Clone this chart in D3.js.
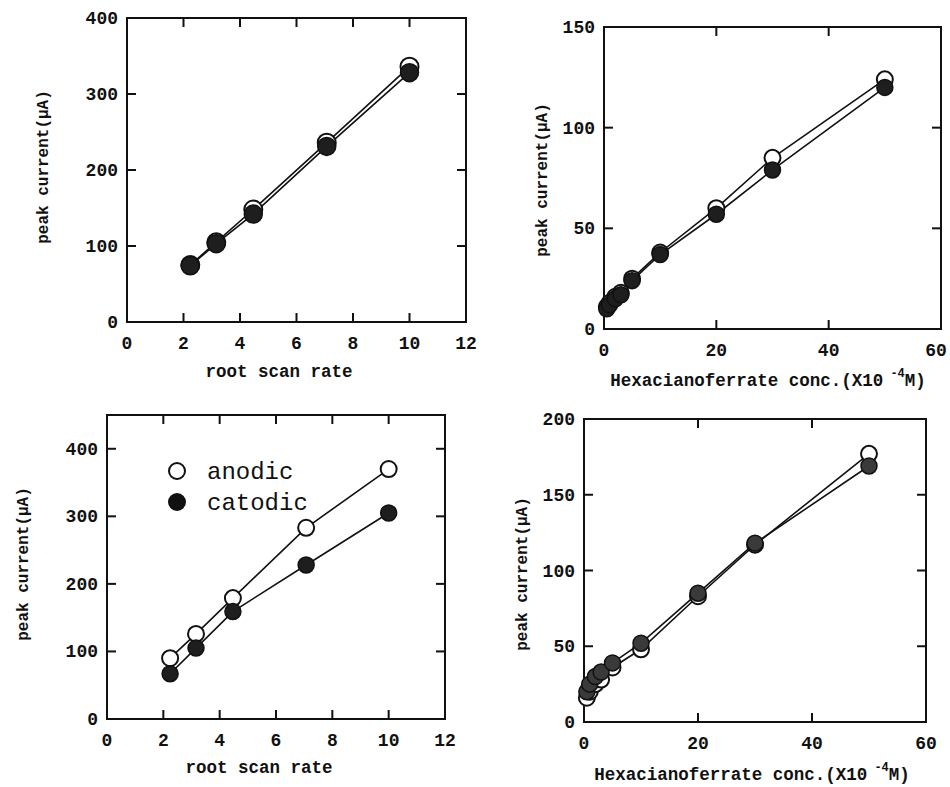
<!DOCTYPE html>
<html>
<head>
<meta charset="utf-8">
<script src="https://cdn.jsdelivr.net/npm/d3@7"></script>
<style>
  body { margin: 0; background: #fff; }
  svg { display: block; }
  .tick-label { font-family: "Liberation Mono", "DejaVu Sans Mono", monospace; font-weight: bold; font-size: 18px; fill: #111; }
  .axis-title { font-family: "Liberation Mono", "DejaVu Sans Mono", monospace; font-weight: bold; font-size: 17.5px; fill: #111; }
  .y-title { font-family: "Liberation Mono", "DejaVu Sans Mono", monospace; font-weight: bold; font-size: 16px; fill: #111; }
  .legend-text { font-family: "Liberation Mono", "Liberation Serif", serif; font-size: 24px; fill: #111; }
</style>
</head>
<body>
<svg width="950" height="787"></svg>
<script>
// x values
var rootScanRate = [2.24, 3.16, 4.47, 7.07, 10.0];
var hexConc = [0.5, 1, 2, 3, 5, 10, 20, 30, 50];

// top left: root scan rate
var p1Anodic  = [75, 105, 148, 236, 336];
var p1Catodic = [74, 103, 142, 231, 328];

// top right: concentration
var p2Anodic  = [11, 13, 16, 18, 25, 38, 60, 85, 124];
var p2Catodic = [10, 12, 15, 17, 24, 37, 57, 79, 120];

// bottom left: root scan rate
var p3Anodic  = [90, 126, 179, 283, 370];
var p3Catodic = [67, 105, 159, 228, 305];

// bottom right: concentration
var p4Anodic  = [16, 20, 25, 28, 36, 48, 83, 117, 177];
var p4Catodic = [20, 25, 30, 33, 39, 52, 85, 118, 169];

// ticks
var rateTicks = [0, 2, 4, 6, 8, 10, 12];
var concTicks = [0, 20, 40, 60];
var ticks400 = [0, 100, 200, 300, 400];
var ticks150 = [0, 50, 100, 150];
var ticks200 = [0, 50, 100, 150, 200];

var legendNames = ["anodic", "catodic"];

var svg = d3.select("svg");

var panels = [
  {x: rootScanRate, a: p1Anodic, c: p1Catodic, xd: [0, 12], yd: [0, 400],
   xr: [127, 466], yr: [322, 18], xt: rateTicks, yt: ticks400, r: 9,
   xlab: "root scan rate", xlx: 279, xly: 377, ylx: 42, yly: 167, legend: false, fillC: "#1e1e1e"},
  {x: hexConc, a: p2Anodic, c: p2Catodic, xd: [0, 60], yd: [0, 150],
   xr: [604, 941], yr: [329, 27], xt: concTicks, yt: ticks150, r: 8,
   xlab: "conc", xlx: 768, xly: 386, ylx: 541, yly: 180, legend: false, fillC: "#1e1e1e"},
  {x: rootScanRate, a: p3Anodic, c: p3Catodic, xd: [0, 12], yd: [0, 450],
   xr: [107, 445], yr: [719, 415], xt: rateTicks, yt: ticks400, r: 8,
   xlab: "root scan rate", xlx: 259, xly: 773, ylx: 22, yly: 564, legend: true, fillC: "#1e1e1e"},
  {x: hexConc, a: p4Anodic, c: p4Catodic, xd: [0, 60], yd: [0, 200],
   xr: [584, 926], yr: [722, 419], xt: concTicks, yt: ticks200, r: 8,
   xlab: "conc", xlx: 752, xly: 780, ylx: 521, yly: 574, legend: false, fillC: "#3a3a3a"}
];

panels.forEach(drawPanel);

function drawPanel(p) {
  var x = d3.scaleLinear().domain(p.xd).range(p.xr);
  var y = d3.scaleLinear().domain(p.yd).range(p.yr);
  var g = svg.append("g");

  // frame
  g.append("rect")
    .attr("x", p.xr[0]).attr("y", p.yr[1])
    .attr("width", p.xr[1] - p.xr[0]).attr("height", p.yr[0] - p.yr[1])
    .attr("fill", "none").attr("stroke", "#111").attr("stroke-width", 2);

  // inward ticks on all four sides, labels outside bottom and left
  var inner = p.xt.filter(function(t) { return t > p.xd[0] && t < p.xd[1]; });
  g.selectAll(".xtb").data(inner).enter().append("line")
    .attr("x1", d => x(d)).attr("x2", d => x(d))
    .attr("y1", p.yr[0]).attr("y2", p.yr[0] - 9)
    .attr("stroke", "#111").attr("stroke-width", 2);
  g.selectAll(".xtt").data(inner).enter().append("line")
    .attr("x1", d => x(d)).attr("x2", d => x(d))
    .attr("y1", p.yr[1]).attr("y2", p.yr[1] + 9)
    .attr("stroke", "#111").attr("stroke-width", 2);
  // keep the last label inside the page edge
  g.selectAll(".xl").data(p.xt).enter().append("text")
    .attr("class", "tick-label")
    .attr("x", d => Math.min(x(d), 936)).attr("y", p.yr[0] + 27)
    .attr("text-anchor", "middle")
    .text(d => d);

  var innerY = p.yt.filter(function(t) { return t > p.yd[0] && t < p.yd[1]; });
  g.selectAll(".ytl").data(innerY).enter().append("line")
    .attr("x1", p.xr[0]).attr("x2", p.xr[0] + 9)
    .attr("y1", d => y(d)).attr("y2", d => y(d))
    .attr("stroke", "#111").attr("stroke-width", 2);
  g.selectAll(".ytr").data(innerY).enter().append("line")
    .attr("x1", p.xr[1]).attr("x2", p.xr[1] - 9)
    .attr("y1", d => y(d)).attr("y2", d => y(d))
    .attr("stroke", "#111").attr("stroke-width", 2);
  g.selectAll(".yl").data(p.yt).enter().append("text")
    .attr("class", "tick-label")
    .attr("x", p.xr[0] - 9).attr("y", d => y(d) + 6)
    .attr("text-anchor", "end")
    .text(d => d);

  // axis titles
  var xt = g.append("text").attr("class", "axis-title")
    .attr("x", p.xlx).attr("y", p.xly).attr("text-anchor", "middle");
  if (p.xlab == "conc") {
    xt.append("tspan").text("Hexacianoferrate conc.(X10");
    xt.append("tspan").attr("dy", -9).attr("font-size", "12px").text(" -4");
    xt.append("tspan").attr("dy", 9).text("M)");
  } else {
    xt.text(p.xlab);
  }
  g.append("text").attr("class", "y-title")
    .attr("transform", "translate(" + p.ylx + "," + p.yly + ") rotate(-90)")
    .attr("text-anchor", "middle").attr("dy", "0.35em")
    .text("peak current(\u03bcA)");

  // lines
  var line = d3.line().x(d => x(d[0])).y(d => y(d[1]));
  var aPts = p.x.map((v, i) => [v, p.a[i]]);
  var cPts = p.x.map((v, i) => [v, p.c[i]]);
  [aPts, cPts].forEach(function(pts) {
    g.append("path").datum(pts).attr("d", line)
      .attr("fill", "none").attr("stroke", "#111").attr("stroke-width", 1.6);
  });

  // markers: anodic open, catodic filled
  g.selectAll(".an").data(aPts).enter().append("circle")
    .attr("cx", d => x(d[0])).attr("cy", d => y(d[1])).attr("r", p.r)
    .attr("fill", "#fff").attr("stroke", "#111").attr("stroke-width", 2);
  g.selectAll(".ca").data(cPts).enter().append("circle")
    .attr("cx", d => x(d[0])).attr("cy", d => y(d[1])).attr("r", p.r)
    .attr("fill", p.fillC).attr("stroke", "#111").attr("stroke-width", 1.5);

  if (p.legend) {
    legendNames.forEach(function(name, i) {
      var ly = 471 + i * 31;
      g.append("circle").attr("cx", 177).attr("cy", ly).attr("r", 8)
        .attr("fill", i == 0 ? "#fff" : "#111").attr("stroke", "#111").attr("stroke-width", 2);
      g.append("text").attr("class", "legend-text")
        .attr("x", 207).attr("y", ly + 8).text(name);
    });
  }
}
</script>
</body>
</html>
